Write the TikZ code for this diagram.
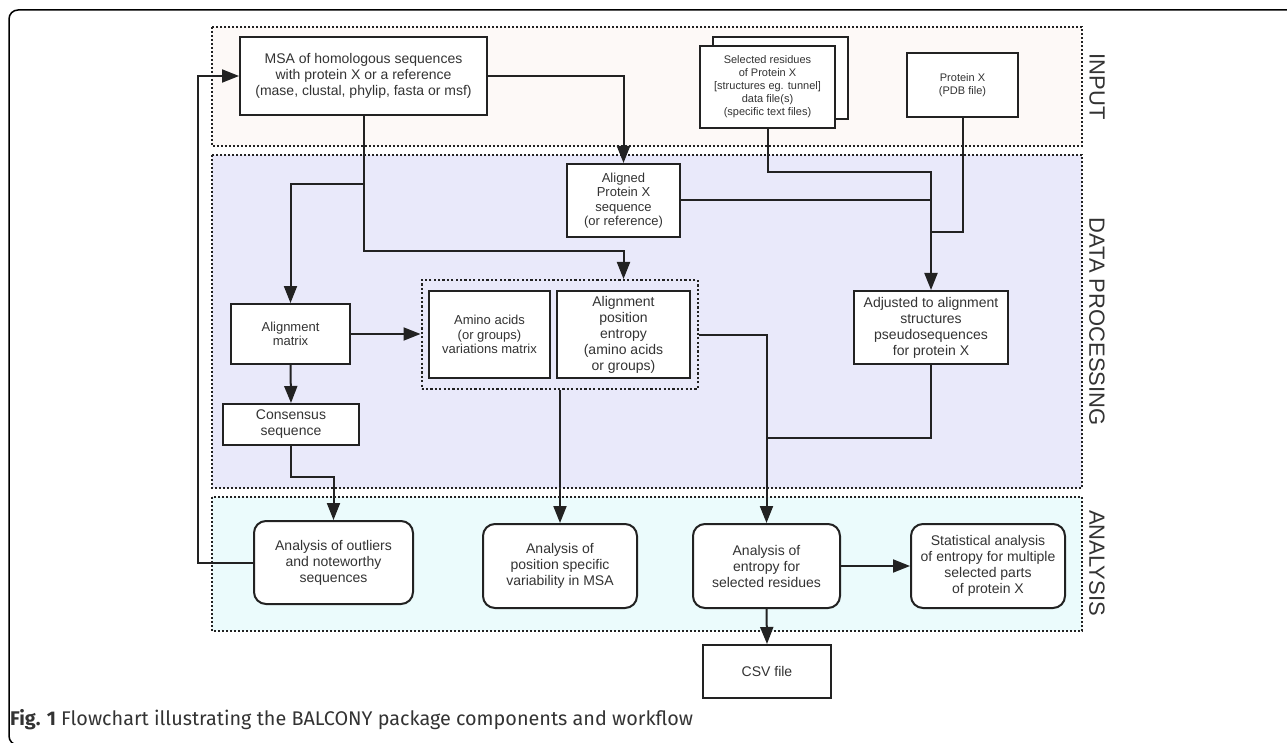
\documentclass[tikz,border=0pt]{standalone}
\usepackage{fontspec}
\setmainfont{Liberation Sans}
\newfontfamily\capfont{Fira Sans}
\usetikzlibrary{arrows.meta,shadows,fit}
\definecolor{linecol}{HTML}{222222}
\definecolor{txtcol}{HTML}{333333}
\definecolor{inputbg}{HTML}{FDF9F7}
\definecolor{procbg}{HTML}{E9E9FA}
\definecolor{anabg}{HTML}{EBFBFC}

\begin{document}
\begin{tikzpicture}
      [x=1pt,y=-1pt,
      box/.style={draw=linecol,fill=white,line width=2pt,align=center,
        inner sep=0pt,text=txtcol,font=\fontsize{14}{16}\selectfont},
      midbox/.style={box,font=\fontsize{13}{14.5}\selectfont},
      smallbox/.style={box,font=\fontsize{11}{13}\selectfont},
      roundbox/.style={box,rounded corners=12pt},
      grpbox/.style={draw=linecol,line width=2pt,dash pattern=on 2.2pt off 2.2pt,inner sep=0pt},
      region/.style={draw=linecol,line width=1.7pt,dash pattern=on 2pt off 2pt},
      sidelabel/.style={rotate=-90,text=txtcol,font=\fontsize{22}{24}\selectfont},
      line/.style={draw=linecol,line width=2pt},
      flow/.style={line,-{Triangle[length=17pt,width=13pt]}}]
      \clip (0,0) rectangle (1287,743);
      \draw[line width=1.5pt,rounded corners=9pt] (1300,10) -- (9,10) -- (9,745) -- (1300,745);

      \draw[region,fill=inputbg] (212,27) rectangle (1082,146);
      \draw[region,fill=procbg] (212,155) rectangle (1082,488);
      \draw[region,fill=anabg] (212,497) rectangle (1082,631);
      \node[sidelabel] (linput) at (1097,86.5) {INPUT};
      \node[sidelabel] (lproc) at (1097,321.5) {DATA PROCESSING};
      \node[sidelabel] (lana) at (1097,563) {ANALYSIS};

      \node[box,minimum width=247,minimum height=78] (msa) at (363.5,76)
        {MSA of homologous sequences\\with protein X or a reference\\(mase, clustal, phylip, fasta or msf)};
      \node[smallbox,minimum width=135,minimum height=82,
        copy shadow={shadow xshift=13pt,shadow yshift=9pt}] (sel) at (767.5,87)
        {Selected residues\\of Protein X\\{[structures eg. tunnel]}\\data file(s)\\(specific text files)};
      \node[smallbox,minimum width=111,minimum height=64] (prot) at (962.5,85)
        {Protein X\\(PDB file)};
      \node[midbox,minimum width=113,minimum height=73] (algn) at (623.5,200.5)
        {Aligned\\Protein X\\sequence\\(or reference)};
      \node[midbox,minimum width=119,minimum height=60] (amat) at (290.5,334)
        {Alignment\\matrix};
      \node[box,minimum width=136,minimum height=41] (cons) at (291,424.5)
        {Consensus\\sequence};
      \node[midbox,minimum width=121,minimum height=87] (amino) at (489.5,334.5)
        {Amino acids\\(or groups)\\variations matrix};
      \node[box,minimum width=133,minimum height=87] (ent) at (623.5,334.5)
        {Alignment\\position\\entropy\\(amino acids\\or groups)};
      \node[grpbox,fit=(amino)(ent),inner xsep=6.5pt,inner ysep=10pt] (grp) {};
      \node[box,minimum width=154,minimum height=73] (adj) at (931,327.5)
        {Adjusted to alignment\\structures\\pseudosequences\\for protein X};
      \node[roundbox,minimum width=159,minimum height=83] (outl) at (333.5,562.5)
        {Analysis of outliers\\and noteworthy\\sequences};
      \node[roundbox,minimum width=154,minimum height=84] (posv) at (560,566)
        {Analysis of\\position specific\\variability in MSA};
      \node[roundbox,minimum width=147,minimum height=84] (entr) at (766.5,566)
        {Analysis of\\entropy for\\selected residues};
      \node[roundbox,minimum width=154,minimum height=84] (stat) at (988,566)
        {Statistical analysis\\of entropy for multiple\\selected parts\\of protein X};
      \node[box,minimum width=128,minimum height=53] (csv) at (767,671.5)
        {CSV file};

      \draw[flow] (outl.west) -- ++(-55,0) |- (msa.west);
      \draw[flow] (msa.east) -| (algn.north);
      \draw[flow] (msa.south) -- ++(0,68) -| (amat.north);
      \draw[flow] (msa.south) -- ++(0,135) -| (ent.north |- grp.north);
      \draw[flow] (sel.south) -- ++(0,43) -| (adj.north);
      \draw[line] (algn.east) -- (algn.east -| adj.north);
      \draw[line] (prot.south) |- +(-31.5,114);
      \draw[flow] (amat.east) -- (grp.west |- amat.east);
      \draw[flow] (amat.south) -- (cons.north);
      \draw[flow] (cons.south) -- ++(0,31) -| (outl.north);
      \draw[flow] (grp.south -| posv.north) -- (posv.north);
      \draw[flow] (grp.east) -| (entr.north);
      \draw[line] (adj.south) |- +(-164.5,73);
      \draw[flow] (entr.east) -- (stat.west);
      \draw[flow] (entr.south) -- (csv.north);

      \node[anchor=base west,text=txtcol,inner sep=0pt,
        font=\capfont\fontsize{19.8}{22}\selectfont] (cap) at (10,725)
        {\textbf{Fig. 1} Flowchart illustrating the BALCONY package components and workflow};
\end{tikzpicture}
\end{document}
